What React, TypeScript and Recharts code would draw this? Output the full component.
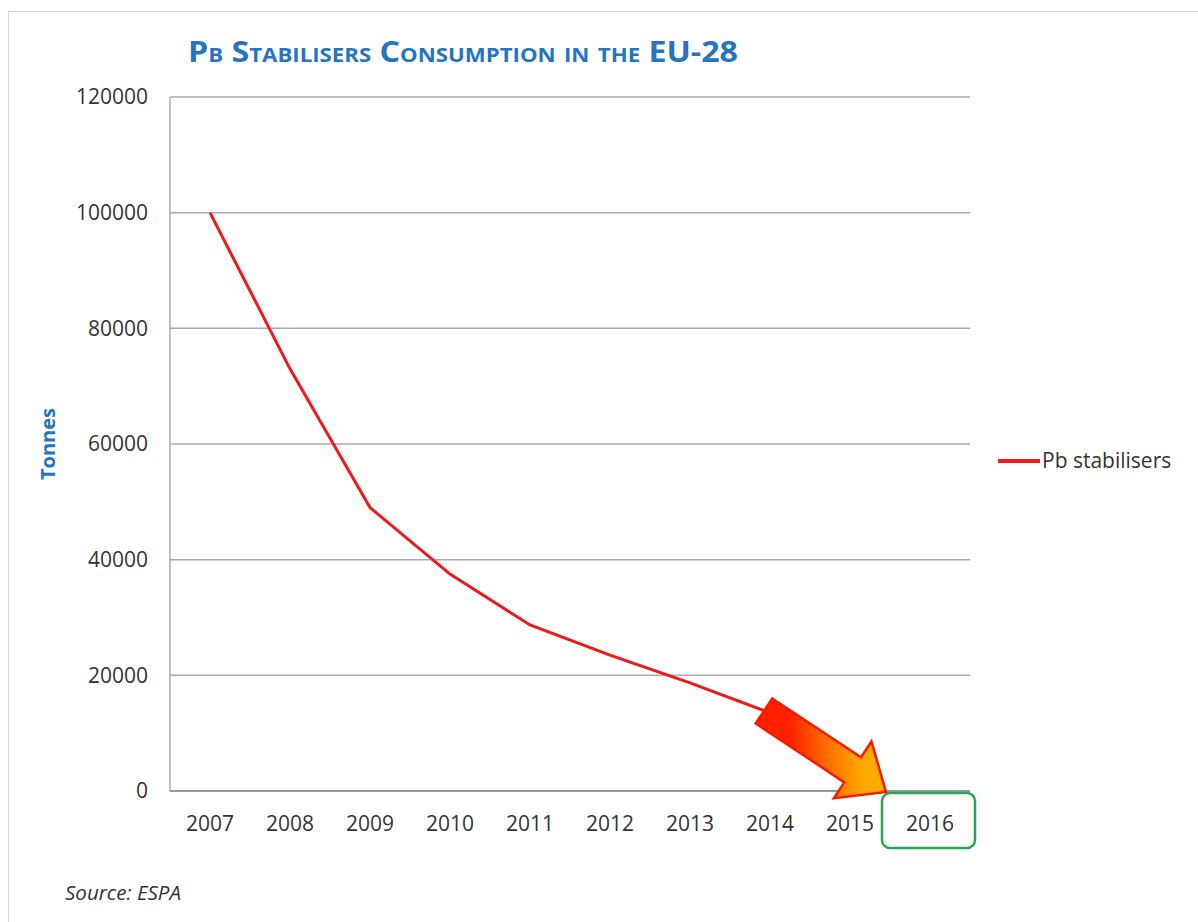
import React from 'react';
import { ComposedChart, Line, XAxis, YAxis, CartesianGrid, Legend } from 'recharts';

const years = ['2007', '2008', '2009', '2010', '2011', '2012', '2013', '2014', '2015', '2016'];
const pbStabilisers: (number | null)[] = [100000, 73000, 49000, 37500, 28700, 23500, 18700, 13500, null, null];
const yTicks = [0, 20000, 40000, 60000, 80000, 100000, 120000];
const highlightYear = '2016';
const seriesName = 'Pb stabilisers';

const data = years.map((y, i) => ({ year: y, pb: pbStabilisers[i] }));

const FONT = '"Open Sans", "Noto Sans", sans-serif';
const TEXT = '#333333';
const BLUE = '#2673C0';
const RED = '#F01818';

const XTick = (props: any) => {
  const { x, y, payload } = props;
  const isHi = payload.value === highlightYear;
  return (
    <g>
      {isHi && (
        <rect x={x - 48} y={y + 2} width={93} height={55} rx={8} ry={8} fill="none" stroke="#2EA355" strokeWidth={2.5} />
      )}
      <text x={x} y={y + 33} dy="0.35em" textAnchor="middle" fill={TEXT} fontSize={21} fontFamily={FONT}>
        {payload.value}
      </text>
    </g>
  );
};

const LegendContent = () => (
  <svg width={210} height={30}>
    <line x1={8} y1={15} x2={50} y2={15} stroke={RED} strokeWidth={4} />
    <text x={52} y={15} dy="0.35em" fill={TEXT} fontSize={21} fontFamily={FONT}>{seriesName}</text>
  </svg>
);

// arrow decoration geometry
function arrowPoints() {
  const S = [764, 711];
  const T = [886, 792];
  const dx = T[0] - S[0], dy = T[1] - S[1];
  const L = Math.hypot(dx, dy);
  const u = [dx / L, dy / L];
  const n = [-u[1], u[0]];
  const w = 15, h = 34, hl = 40;
  const B = [T[0] - u[0] * hl, T[1] - u[1] * hl];
  const p = (base: number[], k: number) => `${base[0] + n[0] * k},${base[1] + n[1] * k}`;
  return [p(S, -w), p(B, -w), p(B, -h), `${T[0]},${T[1]}`, p(B, h), p(B, w), p(S, w)].join(' ');
}

export default function App() {
  return (
    <div style={{ position: 'absolute', left: 0, top: 0, width: 1198, height: 922, background: '#fff', overflow: 'hidden' }}>
      <div style={{ position: 'absolute', left: 8, top: 11, right: -2, bottom: -2, borderLeft: '1.5px solid #d6d6d6', borderTop: '1.5px solid #d6d6d6' }} />
      <div style={{ position: 'absolute', left: 0, top: 0 }}>
        <ComposedChart width={1198} height={922} data={data} margin={{ top: 97, right: 228, bottom: 91, left: 0 }}>
          <CartesianGrid vertical={false} stroke="#ABABAB" strokeWidth={1.5} />
          <XAxis
            dataKey="year"
            scale="band"
            height={40}
            tickSize={0}
            tickMargin={0}
            tick={<XTick />}
            axisLine={{ stroke: '#8C8C8C', strokeWidth: 1.5 }}
            interval={0}
          />
          <YAxis
            width={170}
            domain={[0, 120000]}
            ticks={yTicks}
            tickSize={0}
            tickMargin={22}
            axisLine={{ stroke: '#ABABAB', strokeWidth: 1.5 }}
            tick={{ fill: TEXT, fontSize: 21, fontFamily: FONT }}
          />
          <Legend
            layout="horizontal"
            verticalAlign="middle"
            align="center"
            content={<LegendContent />}
            wrapperStyle={{ left: 990, top: 446, width: 210, height: 30 }}
          />
          <Line
            type="linear"
            dataKey="pb"
            name={seriesName}
            stroke={RED}
            strokeWidth={3}
            dot={false}
            isAnimationActive={false}
            connectNulls={false}
          />
        </ComposedChart>
      </div>
      <svg width={1198} height={922} style={{ position: 'absolute', left: 0, top: 0, pointerEvents: 'none' }}>
        <defs>
          <linearGradient id="arrowGrad" gradientUnits="userSpaceOnUse" x1={790} y1={750} x2={860} y2={745}>
            <stop offset="0%" stopColor="#FF2000" />
            <stop offset="60%" stopColor="#FF7800" />
            <stop offset="100%" stopColor="#FFA800" />
          </linearGradient>
        </defs>
        <polygon points={arrowPoints()} fill="url(#arrowGrad)" stroke="#F51A00" strokeWidth={2.5} strokeLinejoin="miter" />
        <text
          x={188}
          y={62}
          textLength={550}
          lengthAdjust="spacingAndGlyphs"
          fill={BLUE}
          fontSize={29}
          fontWeight="bold"
          fontFamily={FONT}
          style={{ fontVariant: 'small-caps' }}
        >
          Pb Stabilisers Consumption in the EU-28
        </text>
        <text
          x={0}
          y={0}
          transform="translate(48,444) rotate(-90)"
          textAnchor="middle"
          dy="0.35em"
          fill={BLUE}
          fontSize={20}
          fontWeight="bold"
          fontFamily={FONT}
        >
          Tonnes
        </text>
        <text
          x={65}
          y={893}
          dy="0.35em"
          textLength={116}
          lengthAdjust="spacingAndGlyphs"
          fill="#333"
          fontSize={20}
          fontStyle="italic"
          fontFamily={FONT}
        >
          Source: ESPA
        </text>
      </svg>
    </div>
  );
}
